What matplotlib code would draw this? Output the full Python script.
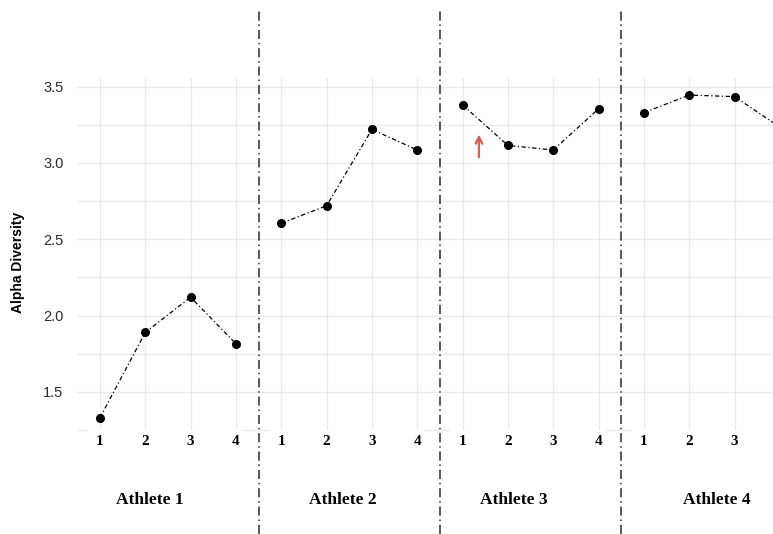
import numpy as np
import matplotlib
matplotlib.use('Agg')
import matplotlib.pyplot as plt
from matplotlib.lines import Line2D

# 数据：四位运动员在4个时间点的 Alpha 多样性
visits = [1, 2, 3, 4]
athletes = ['Athlete 1', 'Athlete 2', 'Athlete 3', 'Athlete 4']
athlete1 = [1.33, 1.89, 2.12, 1.815]
athlete2 = [2.605, 2.72, 3.22, 3.085]
athlete3 = [3.38, 3.115, 3.085, 3.355]
athlete4 = [3.33, 3.445, 3.435, 3.235]
diversity = [athlete1, athlete2, athlete3, athlete4]
y_ticks = [1.5, 2.0, 2.5, 3.0, 3.5]
y_minor = [1.75, 2.25, 2.75, 3.25]

W, H = 773, 534
fig = plt.figure(figsize=(W / 100, H / 100), dpi=100)

px = 45.33                     # 每个x单位的像素
left0 = 77.3
top, bottom = 78.3, 430
grid_c = '#ebebeb'
label_x = [2.1, 2.35, 2.13, 2.6]

axes = []
x0 = left0
for i in range(4):
    xmax = 4.5 if i < 3 else 0.5 + (W - x0) / px
    width = (xmax - 0.5) * px
    ax = fig.add_axes([x0 / W, (H - bottom) / H, width / W, (bottom - top) / H])
    ax.set_xlim(0.5, xmax)
    ax.set_ylim(1.25, 3.555)
    for s in ax.spines.values():
        s.set_visible(False)
    # 最后一个面板右边被裁掉，第4个刻度不显示
    shown = [v for v in visits if v <= xmax]
    ax.set_xticks(shown)
    ax.set_xticklabels([str(v) for v in shown], fontfamily='Liberation Serif',
                       fontweight='bold', fontsize=11)
    ax.set_yticks(y_ticks)
    ax.set_yticks(y_minor, minor=True)
    ax.tick_params(which='both', length=0, pad=3.5)
    ax.grid(True, which='both', color=grid_c, lw=1.0)
    ax.set_axisbelow(True)
    if i == 0:
        ax.set_yticklabels([f'{v:.1f}' for v in y_ticks], fontfamily='Liberation Sans',
                           fontsize=10.5, color='#2b2b2b')
        ax.tick_params(axis='y', pad=10)
    else:
        ax.set_yticklabels([])
    # 底部1.25网格线只在边缘可见
    ax.hlines(1.25, 0.5, 0.72, color=grid_c, lw=1.0, clip_on=False)
    if i < 3:
        ax.hlines(1.25, 4.15, 4.5, color=grid_c, lw=1.0, clip_on=False)

    ax.plot(visits, diversity[i], color='black', lw=0.9, dashes=(3.5, 2, 1, 2),
            marker='o', markersize=5.5, clip_on=True)
    ax.text(label_x[i], -0.2, athletes[i], transform=ax.get_xaxis_transform(),
            ha='center', va='center', fontfamily='Liberation Serif',
            fontweight='bold', fontsize=12.5)
    axes.append(ax)
    x0 += width

# 红色箭头
axes[2].annotate('', xy=(1.36, 3.205), xytext=(1.36, 3.02),
                 arrowprops=dict(arrowstyle='->', color='#e05a50', lw=1.6,
                                 mutation_scale=12))

# 面板之间的点划线
for ax in axes[1:]:
    xf = ax.get_position().x0
    fig.add_artist(Line2D([xf, xf], [0, 1 - 10 / H], transform=fig.transFigure,
                          color='#2b2b2b', lw=1.1, dashes=(6, 2.5, 1, 2.5)))

fig.text(18 / W, 1 - 262 / H, 'Alpha Diversity', rotation=90, ha='center', va='center',
         fontfamily='Liberation Sans', fontweight='bold', fontsize=10)

plt.savefig('out.png', dpi=100)
